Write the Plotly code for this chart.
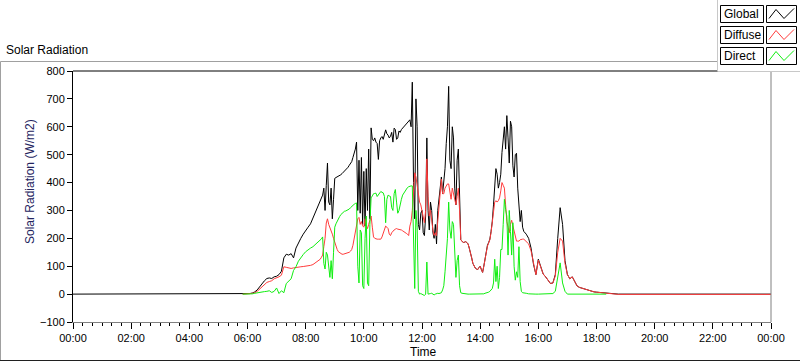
import plotly.graph_objects as go
import pandas as pd

# ---- data ----
# early segment: 5-minute samples 05:50 .. 08:25
early_start = "2000-01-01 05:50"
early_global = [0, 0, 0, 2, 4, 8, 15, 27, 38, 48, 56, 58, 56, 62, 64, 70, 82, 130, 143, 140, 145, 130, 165, 185,
                200, 215, 230, 240, 252, 272, 290, 312]
early_diffuse = [0, 0, 0, 2, 3, 5, 10, 18, 28, 36, 42, 45, 48, 55, 58, 62, 68, 98, 96, 93, 92, 94, 96, 97,
                 98, 99, 100, 102, 103, 106, 112, 118]
early_direct = [0, 0, 0, 0, 1, 3, 5, 7, 8, 9, 10, 12, 6, 10, 22, 2, 12, 5, 38, 48, 55, 85, 98, 118,
                132, 142, 152, 160, 165, 170, 178, 185]

# middle segment: 2.5-minute samples 08:30 .. 15:27:30
mid_start = "2000-01-01 08:30"
mid_global = [
    335, 345, 355, 380, 300, 390, 470, 330, 320, 380, 270, 340,
    415, 418, 420, 423, 425, 428, 432, 436, 440, 444, 448, 455, 462, 468, 475, 490, 505, 520, 545, 300, 480, 290, 490, 250,
    440, 244, 450, 300, 520, 270, 596, 555, 550, 560, 545, 540, 483, 550, 560, 565, 555, 570, 589, 575, 570, 560, 566, 580,
    545, 595, 590, 555, 560, 585, 580, 590, 595, 598, 605, 610, 615, 620, 625, 600, 760, 400, 270, 700, 600, 250, 230, 290,
    300, 220, 210, 280, 560, 300, 230, 330, 300, 220, 200, 250, 180, 300, 350, 400, 420, 360, 400, 450, 540, 600, 745, 480,
    450, 600, 560, 380, 320, 480, 520, 300, 195, 190, 185, 186, 188, 185, 180, 165, 150, 130, 110, 100, 93, 90, 88, 95,
    100, 88, 78, 100, 130, 155, 175, 185, 197, 225, 260, 320, 370, 450, 430, 380, 400, 430, 508, 560, 600, 520, 640, 560,
    470, 620, 600, 460, 420, 500, 505, 380, 330, 260, 300, 240]
mid_diffuse = [
    125, 132, 140, 170, 200, 255, 270, 250, 240, 225, 215, 200,
    185, 170, 160, 152, 148, 145, 143, 143, 144, 145, 147, 148, 150, 154, 160, 175, 200, 215, 240, 270, 275, 250, 260, 245,
    240, 270, 245, 235, 250, 270, 280, 240, 205, 200, 198, 197, 197, 197, 197, 205, 220, 235, 244, 240, 235, 215, 210, 220,
    226, 230, 233, 235, 233, 232, 232, 230, 227, 225, 222, 218, 215, 210, 244, 260, 300, 380, 435, 420, 390, 360, 330, 320,
    300, 280, 256, 300, 485, 350, 280, 300, 250, 230, 210, 220, 210, 260, 330, 370, 412, 360, 360, 380, 390, 395, 395, 360,
    340, 380, 360, 340, 320, 350, 380, 300, 195, 190, 185, 186, 188, 185, 180, 165, 150, 130, 110, 100, 93, 90, 88, 95,
    100, 88, 78, 100, 130, 152, 172, 183, 195, 222, 255, 300, 330, 335, 330, 335, 345, 370, 400, 390, 380, 320, 260, 240,
    220, 250, 265, 245, 226, 210, 190, 190, 190, 195, 197, 197]
mid_direct = [
    192, 198, 205, 110, 90, 150, 140, 100, 60, 120, 55, 150,
    240, 252, 262, 270, 278, 285, 290, 294, 297, 298, 300, 302, 305, 310, 315, 318, 322, 325, 327, 100, 40, 230, 220, 30,
    20, 200, 280, 40, 30, 250, 345, 352, 360, 361, 362, 350, 355, 362, 368, 365, 363, 350, 256, 340, 355, 352, 350, 310,
    300, 360, 375, 330, 290, 300, 328, 340, 355, 362, 370, 376, 382, 385, 387, 388, 388, 200, 20, 300, 240, 10, 0, 2,
    0, -3, -5, 0, 115, 0, 0, 2, 3, 0, -3, 0, 2, 3, 2, 4, 5, 15, 30, 80, 150, 200, 330, 230,
    200, 260, 250, 150, 60, 120, 140, 30, 5, 3, 2, 1, 0, 0, 0, 0, 0, 0, 0, 0, 0, 0, 0, 0,
    0, 0, 0, 1, 3, 4, 5, 7, 10, 15, 20, 40, 125, 45, 100, 20, 60, 160, 160, 250, 340, 303, 280, 140,
    300, 225, 140, 256, 100, 50, 80, 60, 170, 45, 10, 5]

# late segment: 5-minute samples from 15:30
late_start = "2000-01-01 15:30"
late_global = [225, 215, 200, 165, 107, 70, 125, 100, 72, 62, 50, 38, 40, 70, 200, 310, 250, 120,
               70, 55, 62, 45, 29, 24, 21, 19, 15, 13, 11, 8, 7, 6, 5, 4, 3, 3, 2, 0, 0, 0]
late_diffuse = [197, 188, 180, 155, 105, 70, 122, 100, 72, 62, 50, 38, 40, 65, 150, 200, 190, 110,
                70, 55, 62, 45, 29, 24, 21, 19, 15, 13, 11, 8, 7, 6, 5, 4, 3, 3, 2, -1, -1, -1]
late_direct = [5, 3, 1, 0, 0, 0, 0, 0, 0, 0, 0, 0, 2, 10, 60, 112, 40, 10,
               0, 0, 0, 0, 0, 0, 0, 0, 0, 0, 0, 0, 0, 0, 0, 0, 0]

night_start_global = 0       # value at 00:00
night_end_global = 0         # value at 24:00
night_end_diffuse = -1       # value at 24:00

series_names = ["Global", "Diffuse", "Direct"]
series_colors = ["#000000", "#ff3b3b", "#10ee10"]

y_title = "Solar Radiation (W/m2)"
x_title = "Time"
chart_title = "Solar Radiation"

# ---- geometry helpers (pixel -> paper) ----
W, H = 800, 361
L, R, T, B = 73, 771, 71, 322


def px(x):
    return (x - L) / (R - L)


def py(y):
    return (B - y) / (B - T)


def times(start, n, step):
    return list(pd.date_range(start, periods=n, freq=step))


t0 = pd.Timestamp("2000-01-01 00:00")
t1 = pd.Timestamp("2000-01-02 00:00")

t_early = times(early_start, len(early_global), "5min")
t_mid = times(mid_start, len(mid_global), "150s")
t_late = times(late_start, len(late_global), "5min")

tg = [t0] + t_early + t_mid + t_late + [t1]
g = [night_start_global] + early_global + mid_global + late_global + [night_end_global]
td = t_early + t_mid + t_late + [t1]
d = early_diffuse + mid_diffuse + late_diffuse + [night_end_diffuse]
tr = t_early + t_mid + t_late[:len(late_direct)]
r = early_direct + mid_direct + late_direct

fig = go.Figure()
fig.add_trace(go.Scatter(x=tg, y=g, mode="lines", line=dict(color=series_colors[0], width=1),
                         name=series_names[0], showlegend=False))
fig.add_trace(go.Scatter(x=td, y=d, mode="lines", line=dict(color=series_colors[1], width=1),
                         name=series_names[1], showlegend=False))
fig.add_trace(go.Scatter(x=tr, y=r, mode="lines", line=dict(color=series_colors[2], width=1),
                         name=series_names[2], showlegend=False))

font_family = "Liberation Sans, Arial, sans-serif"

fig.update_layout(
    width=W, height=H,
    margin=dict(l=L, r=W - R, t=T, b=H - B),
    paper_bgcolor="white", plot_bgcolor="white",
    font=dict(family=font_family, size=11, color="#000000"),
    showlegend=False,
)
fig.update_xaxes(
    type="date", range=[t0, t1], dtick=7200000, tickformat="%H:%M",
    ticks="outside", ticklen=6, tickcolor="#000000", tickwidth=1,
    minor=dict(dtick=1200000, ticks="outside", ticklen=3, tickcolor="#000000", showgrid=False),
    showgrid=False, zeroline=False, showline=True, linecolor="#808080", linewidth=1,
    tickfont=dict(size=11),
)
fig.update_yaxes(
    range=[-100, 800], dtick=100, ticks="outside", ticklen=5, tickcolor="#000000",
    showgrid=False, zeroline=False, showline=True, linecolor="#000000", linewidth=1,
    tickfont=dict(size=11),
)

shapes = []
# outer gray frame
shapes.append(dict(type="line", xref="paper", yref="paper", x0=px(0.5), x1=px(800), y0=py(61.5), y1=py(61.5),
                   line=dict(color="#a0a0a0", width=1)))
shapes.append(dict(type="line", xref="paper", yref="paper", x0=px(0.5), x1=px(0.5), y0=py(61.5), y1=py(360.5),
                   line=dict(color="#a0a0a0", width=1)))
shapes.append(dict(type="line", xref="paper", yref="paper", x0=px(0), x1=px(800), y0=py(360.5), y1=py(360.5),
                   line=dict(color="#202020", width=1)))
# plot area top (black) and right (gray)
shapes.append(dict(type="line", xref="paper", yref="paper", x0=0, x1=1, y0=1, y1=1,
                   line=dict(color="#000000", width=1)))
shapes.append(dict(type="line", xref="paper", yref="paper", x0=1, x1=1, y0=0, y1=1,
                   line=dict(color="#808080", width=1)))
# legend panel
shapes.append(dict(type="rect", xref="paper", yref="paper", x0=px(717), x1=px(801), y0=py(71), y1=py(-1),
                   fillcolor="white", line=dict(width=0), layer="above"))
shapes.append(dict(type="line", xref="paper", yref="paper", x0=px(717.5), x1=px(717.5), y0=py(71), y1=py(0),
                   line=dict(color="#c8c8c8", width=1)))
shapes.append(dict(type="line", xref="paper", yref="paper", x0=px(717.5), x1=px(800), y0=py(71.5), y1=py(71.5),
                   line=dict(color="#c8c8c8", width=1)))

annotations = []
rows_top = [5.5, 26.5, 47.5]
for i, name in enumerate(series_names):
    y0 = rows_top[i]
    y1 = y0 + 17
    shapes.append(dict(type="rect", xref="paper", yref="paper", x0=px(720.5), x1=px(763.5), y0=py(y1), y1=py(y0),
                       line=dict(color="#000000", width=1), fillcolor="white"))
    shapes.append(dict(type="rect", xref="paper", yref="paper", x0=px(766.5), x1=px(796.5), y0=py(y1), y1=py(y0),
                       line=dict(color="#000000", width=1), fillcolor="white"))
    pts = [(769, y1 - 4), (776, y0 + 4), (784, y1 - 4), (794, y0 + 3)]
    path = "M " + " L ".join(f"{px(a)},{py(b)}" for a, b in pts)
    shapes.append(dict(type="path", xref="paper", yref="paper", path=path,
                       line=dict(color=series_colors[i], width=1)))
    annotations.append(dict(xref="paper", yref="paper", x=px(722), y=py((y0 + y1) / 2), text=name,
                            showarrow=False, xanchor="left", yanchor="middle",
                            font=dict(size=12, color="#000000", family=font_family)))

annotations.append(dict(xref="paper", yref="paper", x=px(4), y=py(50), text=chart_title, showarrow=False,
                        xanchor="left", yanchor="middle", font=dict(size=12, color="#000000", family=font_family)))
annotations.append(dict(xref="paper", yref="paper", x=px(30), y=py(182), text=y_title, showarrow=False,
                        textangle=-90, xanchor="center", yanchor="middle",
                        font=dict(size=12, color="#24245e", family=font_family)))
annotations.append(dict(xref="paper", yref="paper", x=px(423), y=py(352), text=x_title, showarrow=False,
                        xanchor="center", yanchor="middle", font=dict(size=12, color="#000000", family=font_family)))

fig.update_layout(shapes=shapes, annotations=annotations)
fig.write_html("out.html", config={"displayModeBar": False},
               post_script="document.body.style.margin='0';document.body.style.overflow='hidden';")
